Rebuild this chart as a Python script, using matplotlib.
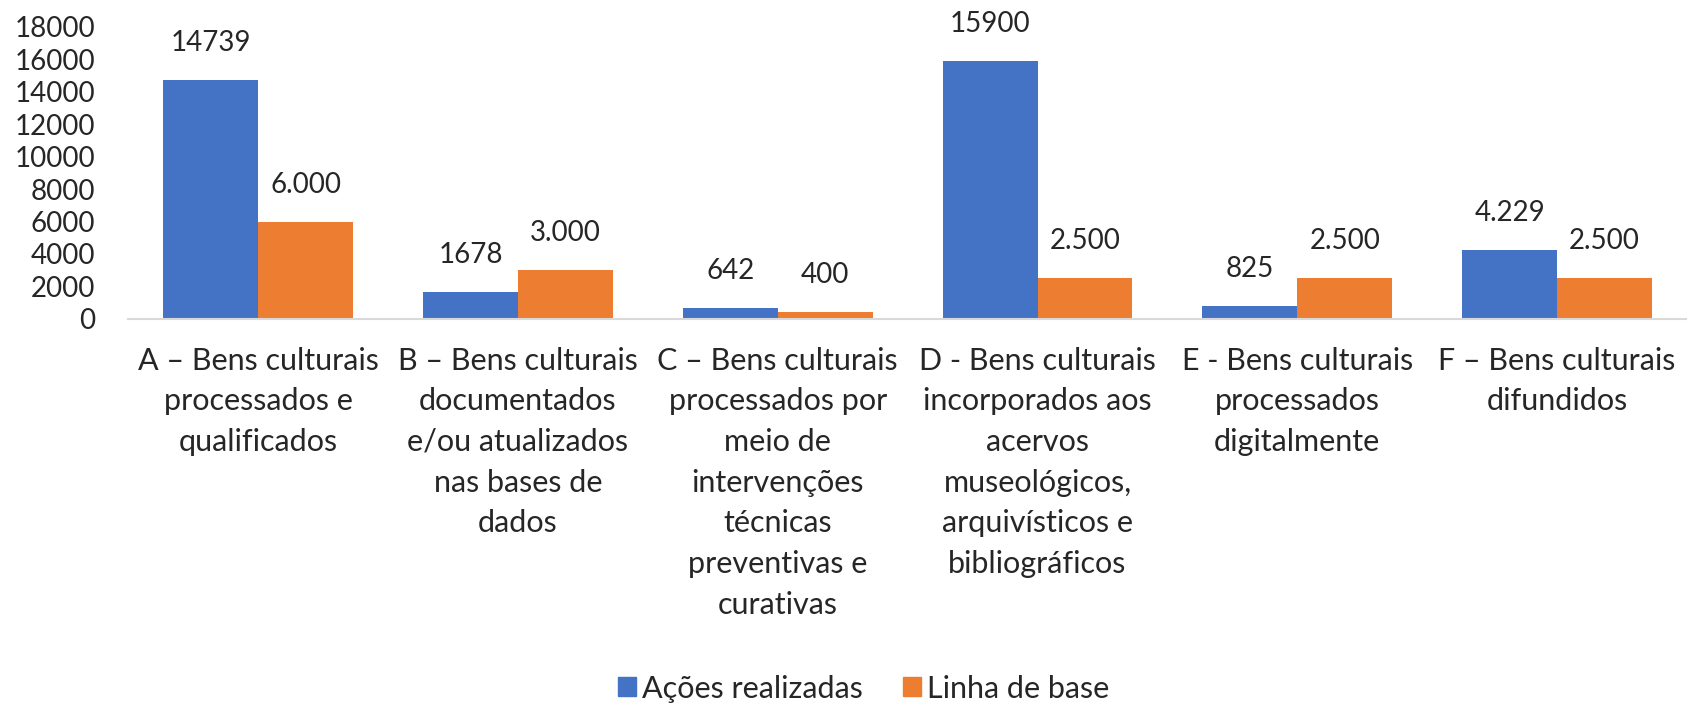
import matplotlib

matplotlib.use("Agg")
import matplotlib.pyplot as plt
from matplotlib.patches import Patch
import numpy as np

plt.rcParams["font.family"] = ["Lato", "DejaVu Sans"]

categories = [
    "A – Bens culturais\nprocessados e\nqualificados",
    "B – Bens culturais\ndocumentados\ne/ou atualizados\nnas bases de\ndados",
    "C – Bens culturais\nprocessados por\nmeio de\nintervenções\ntécnicas\npreventivas e\ncurativas",
    "D - Bens culturais\nincorporados aos\nacervos\nmuseológicos,\narquivísticos e\nbibliográficos",
    "E - Bens culturais\nprocessados\ndigitalmente",
    "F – Bens culturais\ndifundidos",
]
acoes = [14739, 1678, 642, 15900, 825, 4229]
acoes_labels = ["14739", "1678", "642", "15900", "825", "4.229"]
linha_base = [6000, 3000, 400, 2500, 2500, 2500]
linha_labels = ["6.000", "3.000", "400", "2.500", "2.500", "2.500"]
yticks = list(range(0, 18001, 2000))

BLUE = "#4472C4"
ORANGE = "#ED7D31"
TXT = "#262626"
FS_NUM = 20
FS_TXT = 22

fig = plt.figure(figsize=(16.87, 7.04), dpi=100)
ax = fig.add_axes([0.076, 0.547, 0.924, 0.415])

x = np.arange(len(categories))
w = 0.365
b1 = ax.bar(x - w / 2, acoes, w, color=BLUE, label="Ações realizadas")
b2 = ax.bar(x + w / 2, linha_base, w, color=ORANGE, label="Linha de base")

for bars, labels in ((b1, acoes_labels), (b2, linha_labels)):
    for rect, lab in zip(bars, labels):
        ax.annotate(
            lab,
            (rect.get_x() + rect.get_width() / 2, rect.get_height()),
            xytext=(0, 37),
            textcoords="offset pixels",
            ha="center",
            va="center",
            fontsize=FS_NUM,
            color=TXT,
        )

ax.set_xlim(-0.5, len(categories) - 0.5)
ax.set_ylim(0, 18000)
ax.set_yticks(yticks)
ax.set_yticklabels([str(v) for v in yticks], fontsize=FS_NUM, color=TXT)
ax.set_xticks(x)
ax.set_xticklabels(categories, fontsize=FS_TXT, color=TXT, linespacing=1.55, va="top")
ax.tick_params(axis="both", length=0)
ax.tick_params(axis="y", pad=24)
ax.tick_params(axis="x", pad=20)
for side in ("top", "right", "left"):
    ax.spines[side].set_visible(False)
ax.spines["bottom"].set_color("#D9D9D9")
ax.spines["bottom"].set_linewidth(1.5)

handles = [Patch(color=BLUE), Patch(color=ORANGE)]
fig.legend(
    handles,
    ["Ações realizadas", "Linha de base"],
    loc="center",
    bbox_to_anchor=(0.512, 0.022),
    ncol=2,
    frameon=False,
    fontsize=FS_TXT,
    handlelength=0.6,
    handleheight=0.6,
    handletextpad=0.2,
    columnspacing=1.3,
    borderpad=0,
    labelcolor=TXT,
)

fig.savefig("out.png", dpi=100)
